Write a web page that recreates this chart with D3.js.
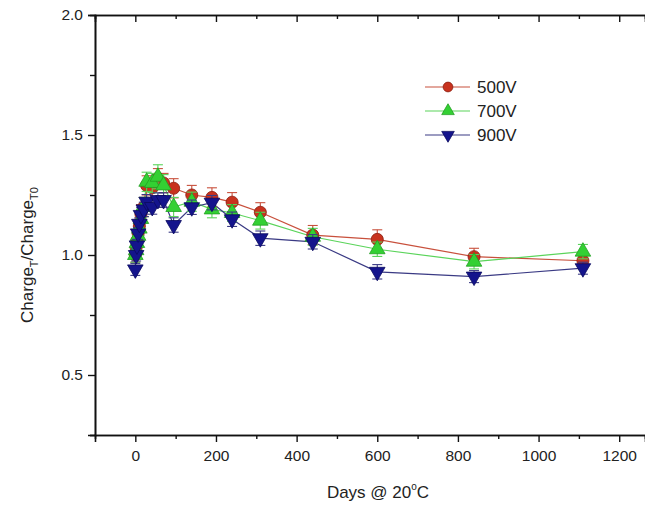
<!DOCTYPE html>
<html>
<head>
<meta charset="utf-8">
<script src="https://cdn.jsdelivr.net/npm/d3@7"></script>
<style>
  body { margin: 0; background: #fff; }
  svg { display: block; font-family: "Liberation Sans", Arial, sans-serif; }
</style>
</head>
<body>
<svg id="chart" width="645" height="507"></svg>
<script>
// sampling days
const days = [0, 2, 4, 7, 10, 14, 21, 28, 42, 56, 70, 95, 140, 190, 240, 310, 440, 600, 840, 1110]

const v500 = [1.00, 1.03, 1.06, 1.09, 1.12, 1.17, 1.20, 1.29, 1.28, 1.32, 1.30, 1.278, 1.25, 1.24, 1.22, 1.178, 1.083, 1.065, 0.993, 0.976]
const e500 = [0.03, 0.03, 0.03, 0.03, 0.03, 0.04, 0.04, 0.04, 0.04, 0.04, 0.04, 0.04, 0.04, 0.04, 0.04, 0.04, 0.04, 0.04, 0.035, 0.03]

const v700 = [1.00, 1.02, 1.05, 1.08, 1.11, 1.15, 1.20, 1.305, 1.30, 1.326, 1.29, 1.20, 1.222, 1.19, 1.175, 1.143, 1.076, 1.024, 0.972, 1.014]
const e700 = [0.03, 0.03, 0.03, 0.03, 0.03, 0.04, 0.04, 0.04, 0.04, 0.05, 0.045, 0.04, 0.04, 0.035, 0.035, 0.035, 0.035, 0.03, 0.03, 0.03]

const v900 = [0.94, 1.00, 1.04, 1.09, 1.13, 1.167, 1.19, 1.222, 1.20, 1.229, 1.229, 1.125, 1.199, 1.218, 1.149, 1.07, 1.055, 0.93, 0.91, 0.945]
const e900 = [0.025, 0.025, 0.025, 0.025, 0.025, 0.03, 0.03, 0.03, 0.03, 0.03, 0.03, 0.03, 0.03, 0.03, 0.03, 0.03, 0.03, 0.03, 0.025, 0.025]

const seriesNames = ["500V", "700V", "900V"]
const xTicks = [0, 200, 400, 600, 800, 1000, 1200]
const yTicks = [0.5, 1.0, 1.5, 2.0]

const series = [
    {name: seriesNames[0], values: v500, errs: e500, fill: "#c8321e", stroke: "#8a2012", line: "#c8503c", shape: d3.symbolCircle, size: 115, rot: 0},
    {name: seriesNames[1], values: v700, errs: e700, fill: "#33d033", stroke: "#22a022", line: "#5ad45a", shape: d3.symbolTriangle, size: 105, rot: 0},
    {name: seriesNames[2], values: v900, errs: e900, fill: "#14148c", stroke: "#0a0a60", line: "#3a3a84", shape: d3.symbolTriangle, size: 105, rot: 180},
]

const svg = d3.select("#chart")
const plotLeft = 95, plotRight = 645, plotTop = 15, plotBottom = 435

const x = d3.scaleLinear().domain([-100, (plotRight - 135) / 0.4035]).range([plotLeft, plotRight])
const y = d3.scaleLinear().domain([0.25, 2.0]).range([plotBottom, plotTop])

// axes
const minorX = d3.range(-100, 1300, 100).filter(d => !xTicks.includes(d) && d > -100)
svg.append("g").attr("transform", `translate(0,${plotBottom})`)
    .call(d3.axisBottom(x).tickValues(xTicks).tickSize(7).tickPadding(8).tickFormat(d3.format("d")))
svg.append("g").attr("transform", `translate(0,${plotBottom})`)
    .call(d3.axisBottom(x).tickValues(minorX).tickSize(4).tickFormat(""))
svg.append("g").attr("transform", `translate(0,${plotTop})`)
    .call(d3.axisBottom(x).tickValues(xTicks).tickSize(7).tickFormat(""))
svg.append("g").attr("transform", `translate(0,${plotTop})`)
    .call(d3.axisBottom(x).tickValues(minorX).tickSize(4).tickFormat(""))
svg.append("g").attr("transform", `translate(${plotLeft},0)`)
    .call(d3.axisLeft(y).tickValues(yTicks).tickSize(7).tickPadding(5).tickFormat(d3.format(".1f")))
svg.append("g").attr("transform", `translate(${plotLeft},0)`)
    .call(d3.axisLeft(y).tickValues([0.25, 0.75, 1.25, 1.75]).tickSize(5).tickFormat(""))

svg.selectAll(".domain").attr("stroke", "#111").attr("stroke-width", 1.6)
svg.selectAll(".tick line").attr("stroke", "#111").attr("stroke-width", 1.4)
svg.selectAll(".tick text").attr("font-size", 15.5).attr("fill", "#222")
    .attr("font-family", "'Liberation Sans', Arial, sans-serif")

// axis titles
const yTitle = svg.append("text")
    .attr("transform", `translate(33,255) rotate(-90)`)
    .attr("text-anchor", "middle")
    .attr("font-size", 17)
    .attr("fill", "#222")
yTitle.append("tspan").text("Charge")
yTitle.append("tspan").text("T").attr("font-size", 11).attr("dy", 5)
yTitle.append("tspan").text("/Charge").attr("dy", -5)
yTitle.append("tspan").text("T0").attr("font-size", 11).attr("dy", 5)

const xTitle = svg.append("text")
    .attr("x", 378).attr("y", 498)
    .attr("text-anchor", "middle")
    .attr("font-size", 17)
    .attr("fill", "#222")
xTitle.append("tspan").text("Days @ 20")
xTitle.append("tspan").text("o").attr("font-size", 10).attr("dy", -8)
xTitle.append("tspan").text("C").attr("dy", 8)

// lines
const lineGen = d3.line().x(d => x(d[0])).y(d => y(d[1]))
series.forEach(s => {
    svg.append("path")
        .datum(days.map((d, i) => [d, s.values[i]]))
        .attr("fill", "none")
        .attr("stroke", s.line)
        .attr("stroke-width", 1.2)
        .attr("d", lineGen)
})

// error bars + markers
series.forEach(s => {
    const g = svg.append("g")
    const pts = days.map((d, i) => ({d, v: s.values[i], e: s.errs[i]}))
    g.selectAll("line.err").data(pts).join("line")
        .attr("x1", p => x(p.d)).attr("x2", p => x(p.d))
        .attr("y1", p => y(p.v - p.e)).attr("y2", p => y(p.v + p.e))
        .attr("stroke", s.line).attr("stroke-width", 1.1)
    ;[-1, 1].forEach(sign => {
        g.selectAll(null).data(pts).join("line")
            .attr("x1", p => x(p.d) - 5).attr("x2", p => x(p.d) + 5)
            .attr("y1", p => y(p.v + sign * p.e)).attr("y2", p => y(p.v + sign * p.e))
            .attr("stroke", s.line).attr("stroke-width", 1.1)
    })
    g.selectAll("path").data(pts).join("path")
        .attr("d", d3.symbol().type(s.shape).size(s.size))
        .attr("transform", p => `translate(${x(p.d)},${y(p.v)}) rotate(${s.rot})`)
        .attr("fill", s.fill)
        .attr("stroke", s.stroke)
        .attr("stroke-width", 0.8)
})

// legend
const legend = svg.append("g")
series.forEach((s, i) => {
    const ly = 87 + i * 24
    legend.append("line").attr("x1", 425).attr("x2", 470).attr("y1", ly).attr("y2", ly)
        .attr("stroke", s.line).attr("stroke-width", 1.1)
    legend.append("path")
        .attr("d", d3.symbol().type(s.shape).size(s.size * 0.65))
        .attr("transform", `translate(448,${ly}) rotate(${s.rot})`)
        .attr("fill", s.fill).attr("stroke", s.stroke).attr("stroke-width", 0.8)
    legend.append("text").attr("x", 477).attr("y", ly + 6)
        .attr("font-size", 17).attr("fill", "#222").text(s.name)
})
</script>
</body>
</html>
